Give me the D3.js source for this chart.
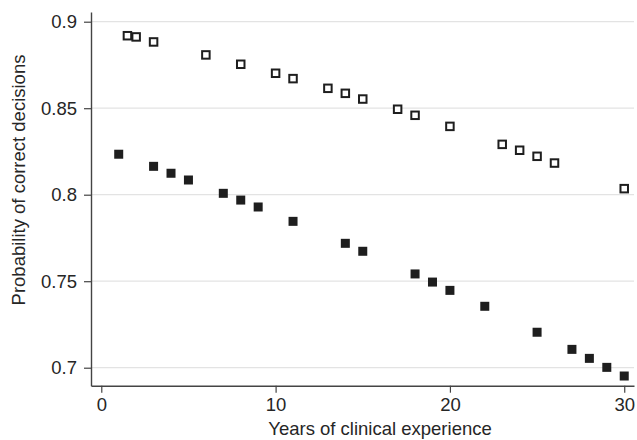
<!DOCTYPE html>
<html>
<head>
<meta charset="utf-8">
<script src="https://cdn.jsdelivr.net/npm/d3@7"></script>
<style>
  html, body { margin: 0; padding: 0; background: #fff; }
  svg { display: block; font-family: "Liberation Sans", Arial, sans-serif; }
</style>
</head>
<body>
<svg id="chart" width="637" height="440"></svg>
<script>
// Hollow squares (upper series)
const hollowYears = [1.5, 2, 3, 6, 8, 10, 11, 13, 14, 15, 17, 18, 20, 23, 24, 25, 26, 30];
const hollowValues = [0.8919, 0.8912, 0.8883, 0.8808, 0.8754, 0.8702, 0.8671, 0.8615, 0.8586, 0.8553,
                      0.8494, 0.8459, 0.8395, 0.8291, 0.8257, 0.8222, 0.8183, 0.8035];
// Filled squares (lower series)
const filledYears = [1, 3, 4, 5, 7, 8, 9, 11, 14, 15, 18, 19, 20, 22, 25, 27, 28, 29, 30];
const filledValues = [0.8234, 0.8164, 0.8124, 0.8085, 0.8008, 0.7969, 0.7929, 0.7846, 0.7719, 0.7673,
                      0.7542, 0.7495, 0.7447, 0.7355, 0.7205, 0.7106, 0.7054, 0.7002, 0.6952];
const xTicks = [0, 10, 20, 30];
const yTicks = [0.7, 0.75, 0.8, 0.85, 0.9];
const yTickLabels = ["0.7", "0.75", "0.8", "0.85", "0.9"];
const xTitle = "Years of clinical experience";
const yTitle = "Probability of correct decisions";

const svg = d3.select("#chart");
const mLeft = 91, mRight = 634, mTop = 12, mBottom = 385.7;

const x = d3.scaleLinear().domain([-0.59, 30.56]).range([mLeft, mRight]);
const y = d3.scaleLinear().domain([0.6896, 0.90561]).range([mBottom, mTop]);

const ink = "#262626";

// gridlines
svg.append("g").selectAll("line").data(yTicks).join("line")
  .attr("x1", mLeft).attr("x2", mRight)
  .attr("y1", d => y(d)).attr("y2", d => y(d))
  .attr("stroke", "#e3e3e3").attr("stroke-width", 1.3);

// y axis
const yAxis = svg.append("g").attr("transform", `translate(${mLeft},0)`)
  .call(d3.axisLeft(y).tickValues(yTicks).tickFormat((d, i) => yTickLabels[i]).tickSize(7).tickSizeOuter(0).tickPadding(7));
// x axis
const xAxis = svg.append("g").attr("transform", `translate(0,${mBottom})`)
  .call(d3.axisBottom(x).tickValues(xTicks).tickFormat(d3.format("d")).tickSize(7).tickSizeOuter(0).tickPadding(5));

[yAxis, xAxis].forEach(g => {
  g.select(".domain").attr("stroke", "#444").attr("stroke-width", 1.4);
  g.selectAll(".tick line").attr("stroke", "#444").attr("stroke-width", 1.2);
  g.selectAll(".tick text").attr("fill", ink).style("font-size", "18.5px")
    .style("font-family", "'Liberation Sans', Arial, sans-serif");
});

// markers
const s = 9;
svg.append("g").selectAll("rect").data(filledYears.map((d, i) => [d, filledValues[i]])).join("rect")
  .attr("x", d => x(d[0]) - s / 2).attr("y", d => y(d[1]) - s / 2)
  .attr("width", s).attr("height", s).attr("fill", "#1e1e1e");

const hs = 7.5;
svg.append("g").selectAll("rect").data(hollowYears.map((d, i) => [d, hollowValues[i]])).join("rect")
  .attr("x", d => x(d[0]) - hs / 2).attr("y", d => y(d[1]) - hs / 2)
  .attr("width", hs).attr("height", hs).attr("fill", "#fff")
  .attr("stroke", "#1e1e1e").attr("stroke-width", 2);

// titles
svg.append("text").attr("x", 380).attr("y", 435)
  .attr("text-anchor", "middle").attr("fill", ink).style("font-size", "18.5px").text(xTitle);
svg.append("text").attr("transform", `translate(24.5,180) rotate(-90)`)
  .attr("text-anchor", "middle").attr("fill", ink).style("font-size", "18.5px").text(yTitle);
</script>
</body>
</html>
